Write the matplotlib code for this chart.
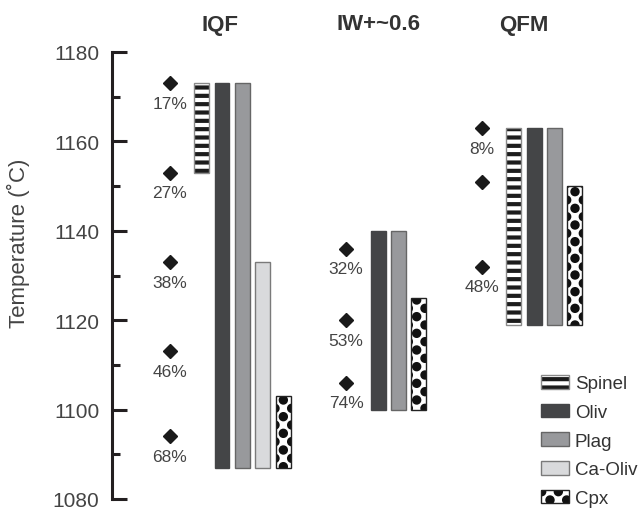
import numpy as np
import matplotlib
matplotlib.use('Agg')
import matplotlib.pyplot as plt
import matplotlib.hatch as mhatch
from matplotlib.path import Path
from matplotlib.transforms import blended_transform_factory

plt.rcParams['font.family'] = ['Liberation Sans', 'DejaVu Sans']
plt.rcParams['hatch.linewidth'] = 3.0


# big staggered black dots for the Cpx fill (takes over the '*' hatch)
class BigDots(mhatch.HatchPatternBase):
    radius = 0.026

    def __init__(self, hatch, density):
        self.n = hatch.count('*') * 6
        circle = Path.unit_circle()
        n_shapes = (self.n + 1) ** 2 + self.n ** 2 if self.n else 0
        self.num_vertices = n_shapes * len(circle.vertices)

    def set_vertices_and_codes(self, vertices, codes):
        circle = Path.unit_circle()
        step = 1.0 / self.n
        parts = []
        for row in range(2 * self.n + 1):
            if row % 2 == 0:
                cols = np.linspace(0, 1, self.n + 1)
            else:
                cols = np.linspace(step / 2, 1 - step / 2, self.n)
            for c in cols:
                parts.append(circle.vertices * self.radius + [c, row * step / 2])
        vertices[:] = np.concatenate(parts)
        codes[:] = np.tile(circle.codes, len(parts))


mhatch._hatch_types = [BigDots if t is mhatch.Stars else t for t in mhatch._hatch_types]

# ---- data ----
groups = ['IQF', 'IW+~0.6', 'QFM']

iqf_minerals = ['Spinel', 'Oliv', 'Plag', 'Ca-Oliv', 'Cpx']
iqf_top = [1173, 1173, 1173, 1133, 1103]
iqf_bottom = [1153, 1087, 1087, 1087, 1087]

iw_minerals = ['Oliv', 'Plag', 'Cpx']
iw_top = [1140, 1140, 1125]
iw_bottom = [1100, 1100, 1100]

qfm_minerals = ['Spinel', 'Oliv', 'Plag', 'Cpx']
qfm_top = [1163, 1163, 1163, 1150]
qfm_bottom = [1119, 1119, 1119, 1119]

iqf_points = [1173, 1153, 1133, 1113, 1094]
iqf_pct = ['17%', '27%', '38%', '46%', '68%']
iw_points = [1136, 1120, 1106]
iw_pct = ['32%', '53%', '74%']
qfm_points = [1163, 1151, 1132]
qfm_pct = ['8%', '', '48%']

# ---- styling ----
styles = {
    'Spinel': dict(facecolor='white', edgecolor='#1c1c1c', hatch='--', outline='#8a8a8a'),
    'Oliv': dict(facecolor='#444547', edgecolor='#444547', hatch=None, outline='#444547'),
    'Plag': dict(facecolor='#98999c', edgecolor='#98999c', hatch=None, outline='#666666'),
    'Ca-Oliv': dict(facecolor='#d9dadc', edgecolor='#d9dadc', hatch=None, outline='#7a7a7a'),
    'Cpx': dict(facecolor='white', edgecolor='#111111', hatch='*', outline='#222222'),
}
bar_w = 0.096
slot_w = 0.131
title_shift = [-0.013, 0.0, -0.064]

fig = plt.figure(figsize=(6.42, 5.10), dpi=100)
ax = fig.add_axes([112 / 642, 10 / 510, 530 / 642, 447 / 510])

handles = {}
group_data = [
    (iqf_minerals, iqf_top, iqf_bottom, iqf_points, iqf_pct),
    (iw_minerals, iw_top, iw_bottom, iw_points, iw_pct),
    (qfm_minerals, qfm_top, qfm_bottom, qfm_points, qfm_pct),
]
for g, (mins, tops, bots, pts, pct) in enumerate(group_data):
    # Oliv sits on the group position, Spinel (if any) just left of it
    first = -1 if mins[0] == 'Spinel' else 0
    for i, (m, t, b) in enumerate(zip(mins, tops, bots)):
        st = styles[m]
        x = g + (first + i) * slot_w
        fill = ax.bar(x, t - b, bottom=b, width=bar_w, facecolor=st['facecolor'],
                      edgecolor=st['edgecolor'], hatch=st['hatch'], linewidth=0)
        edge = ax.bar(x, t - b, bottom=b, width=bar_w, fill=False,
                      edgecolor=st['outline'], linewidth=1.0)
        handles[m] = (fill[0], edge[0])
    px = g + first * slot_w - 0.205
    ax.plot([px] * len(pts), pts, linestyle='none', marker='D', ms=7,
            color='#1a1a1a')
    for p, lab in zip(pts, pct):
        ax.annotate(lab, (px, p), xytext=(0, -14.5), textcoords='offset points',
                    ha='center', va='center', fontsize=12.5, color='#444444')

trans = blended_transform_factory(ax.transData, fig.transFigure)
for g, name in enumerate(groups):
    ax.text(g + title_shift[g], 485 / 510, name, transform=trans, ha='center',
            va='center', fontsize=16, fontweight='bold', color='#333333')

ax.set_xlim(-0.705, 2.692)
ax.set_ylim(1080, 1180)
ax.set_yticks(np.arange(1080, 1181, 20))
ax.set_yticks(np.arange(1090, 1180, 20), minor=True)
ax.set_xticks([])
for s in ['top', 'right', 'bottom']:
    ax.spines[s].set_visible(False)
ax.spines['left'].set_linewidth(2.2)
ax.spines['left'].set_color('#231f20')
ax.tick_params(axis='y', which='major', direction='in', length=11, width=2.2,
               color='#231f20', labelsize=15, labelcolor='#444444', pad=9)
ax.tick_params(axis='y', which='minor', direction='in', length=6, width=2.2,
               color='#231f20')

fig.text(18 / 642, 1 - 243 / 510, 'Temperature (˚C)', rotation=90, ha='center',
         va='center', fontsize=16, color='#444444')

order = ['Spinel', 'Oliv', 'Plag', 'Ca-Oliv', 'Cpx']
ax.legend([handles[m] for m in order], order, loc='upper left',
          bbox_to_anchor=(541 / 642, 1 - 376 / 510), bbox_transform=fig.transFigure,
          frameon=False, fontsize=13.5, handlelength=1.5, handleheight=0.75,
          handletextpad=0.3, labelspacing=0.6, borderpad=0, borderaxespad=0,
          labelcolor='#333333')

fig.savefig('out.png', dpi=100)
